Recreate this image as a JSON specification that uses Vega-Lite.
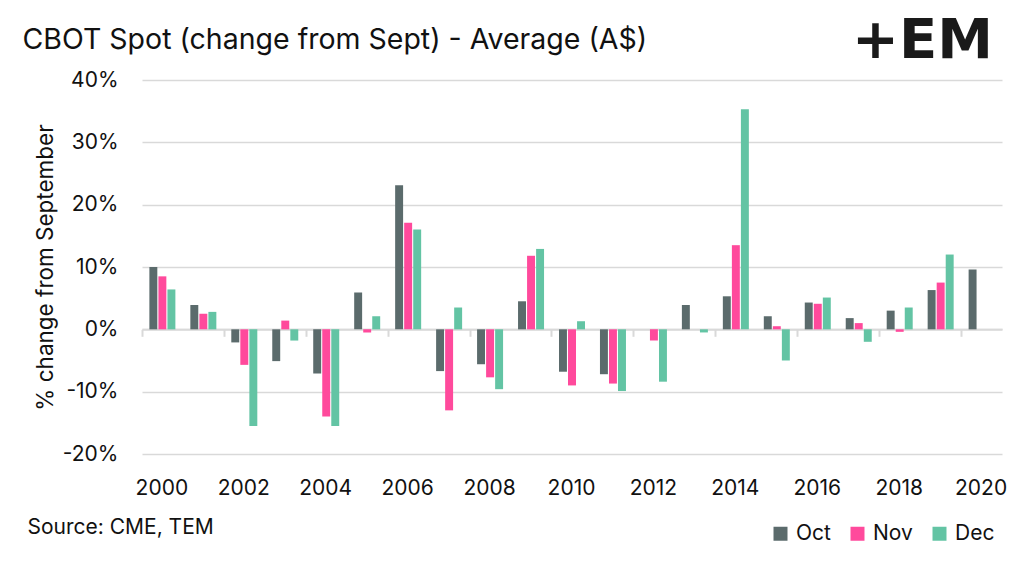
{
  "$schema": "https://vega.github.io/schema/vega-lite/v6.json",
  "width": 860,
  "height": 374,
  "autosize": {"type": "none"},
  "padding": {"left": 142, "top": 80, "right": 22, "bottom": 115},
  "background": "white",
  "config": {
    "font": "Inter",
    "view": {"stroke": null},
    "axis": {"labelColor": "#111111", "titleColor": "#111111", "titleFontWeight": "normal"}
  },
  "data": {
    "values": [
      {"year": 2000, "month": "Oct", "value": 0.100},
      {"year": 2000, "month": "Nov", "value": 0.085},
      {"year": 2000, "month": "Dec", "value": 0.064},
      {"year": 2001, "month": "Oct", "value": 0.039},
      {"year": 2001, "month": "Nov", "value": 0.025},
      {"year": 2001, "month": "Dec", "value": 0.028},
      {"year": 2002, "month": "Oct", "value": -0.021},
      {"year": 2002, "month": "Nov", "value": -0.057},
      {"year": 2002, "month": "Dec", "value": -0.155},
      {"year": 2003, "month": "Oct", "value": -0.051},
      {"year": 2003, "month": "Nov", "value": 0.014},
      {"year": 2003, "month": "Dec", "value": -0.018},
      {"year": 2004, "month": "Oct", "value": -0.071},
      {"year": 2004, "month": "Nov", "value": -0.140},
      {"year": 2004, "month": "Dec", "value": -0.155},
      {"year": 2005, "month": "Oct", "value": 0.059},
      {"year": 2005, "month": "Nov", "value": -0.005},
      {"year": 2005, "month": "Dec", "value": 0.021},
      {"year": 2006, "month": "Oct", "value": 0.231},
      {"year": 2006, "month": "Nov", "value": 0.171},
      {"year": 2006, "month": "Dec", "value": 0.160},
      {"year": 2007, "month": "Oct", "value": -0.067},
      {"year": 2007, "month": "Nov", "value": -0.130},
      {"year": 2007, "month": "Dec", "value": 0.035},
      {"year": 2008, "month": "Oct", "value": -0.056},
      {"year": 2008, "month": "Nov", "value": -0.077},
      {"year": 2008, "month": "Dec", "value": -0.096},
      {"year": 2009, "month": "Oct", "value": 0.045},
      {"year": 2009, "month": "Nov", "value": 0.118},
      {"year": 2009, "month": "Dec", "value": 0.129},
      {"year": 2010, "month": "Oct", "value": -0.068},
      {"year": 2010, "month": "Nov", "value": -0.090},
      {"year": 2010, "month": "Dec", "value": 0.013},
      {"year": 2011, "month": "Oct", "value": -0.072},
      {"year": 2011, "month": "Nov", "value": -0.087},
      {"year": 2011, "month": "Dec", "value": -0.099},
      {"year": 2012, "month": "Nov", "value": -0.018},
      {"year": 2012, "month": "Dec", "value": -0.084},
      {"year": 2013, "month": "Oct", "value": 0.039},
      {"year": 2013, "month": "Dec", "value": -0.005},
      {"year": 2014, "month": "Oct", "value": 0.053},
      {"year": 2014, "month": "Nov", "value": 0.135},
      {"year": 2014, "month": "Dec", "value": 0.353},
      {"year": 2015, "month": "Oct", "value": 0.021},
      {"year": 2015, "month": "Nov", "value": 0.005},
      {"year": 2015, "month": "Dec", "value": -0.050},
      {"year": 2016, "month": "Oct", "value": 0.043},
      {"year": 2016, "month": "Nov", "value": 0.041},
      {"year": 2016, "month": "Dec", "value": 0.051},
      {"year": 2017, "month": "Oct", "value": 0.018},
      {"year": 2017, "month": "Nov", "value": 0.010},
      {"year": 2017, "month": "Dec", "value": -0.020},
      {"year": 2018, "month": "Oct", "value": 0.030},
      {"year": 2018, "month": "Nov", "value": -0.004},
      {"year": 2018, "month": "Dec", "value": 0.035},
      {"year": 2019, "month": "Oct", "value": 0.063},
      {"year": 2019, "month": "Nov", "value": 0.075},
      {"year": 2019, "month": "Dec", "value": 0.120},
      {"year": 2020, "month": "Oct", "value": 0.096}
    ]
  },
  "layer": [
    {
      "mark": {"type": "bar"},
      "encoding": {
        "x": {
          "field": "year",
          "type": "ordinal",
          "scale": {"paddingInner": 0.365, "paddingOuter": 0.18},
          "axis": {
            "orient": "bottom",
            "values": [2000, 2002, 2004, 2006, 2008, 2010, 2012, 2014, 2016, 2018, 2020],
            "offset": -124.7,
            "bandPosition": 0,
            "tickOffset": -7.5,
            "labelOffset": 6.5,
            "domainColor": "#d9d9d9",
            "domainWidth": 2,
            "tickColor": "#d9d9d9",
            "tickWidth": 2,
            "tickSize": 7,
            "labelPadding": 141,
            "labelAngle": 0,
            "labelFontSize": 21,
            "grid": false,
            "title": "Source: CME, TEM",
            "titleX": -115,
            "titleY": 198,
            "titleAlign": "left",
            "titleBaseline": "middle",
            "titleFontSize": 21
          }
        },
        "xOffset": {
          "field": "month",
          "type": "nominal",
          "sort": ["Oct", "Nov", "Dec"],
          "scale": {"paddingInner": 0.12}
        },
        "y": {
          "field": "value",
          "type": "quantitative",
          "scale": {"domain": [-0.2, 0.4], "nice": false},
          "axis": {
            "values": [-0.2, -0.1, 0, 0.1, 0.2, 0.3, 0.4],
            "labelExpr": "(datum.value < -0.0001 ? '-' : '') + format(abs(datum.value), '.0%')",
            "domain": false,
            "ticks": false,
            "grid": true,
            "gridColor": "#d9d9d9",
            "gridWidth": 1.5,
            "labelPadding": 24,
            "labelFontSize": 21,
            "title": "% change from September",
            "titleFontSize": 22.5,
            "titleX": -97,
            "titleY": 187,
            "titleAlign": "center",
            "titleBaseline": "middle",
            "titleAngle": -90
          }
        },
        "color": {
          "field": "month",
          "type": "nominal",
          "scale": {"domain": ["Oct", "Nov", "Dec"], "range": ["#5b6b6c", "#ff4a9c", "#63c4a4"]},
          "legend": {
            "orient": "none",
            "legendX": 628,
            "legendY": 443,
            "direction": "horizontal",
            "title": null,
            "symbolType": "square",
            "symbolSize": 196,
            "symbolStrokeWidth": 0,
            "labelFontSize": 21,
            "labelColor": "#111111",
            "labelOffset": 5,
            "columnPadding": 16,
            "padding": 0
          }
        }
      }
    },
    {
      "mark": {"type": "bar", "opacity": 0},
      "encoding": {
        "x": {
          "field": "year",
          "type": "ordinal",
          "axis": {
            "orient": "top",
            "labels": false,
            "ticks": false,
            "domain": false,
            "grid": false,
            "title": "CBOT Spot (change from Sept) - Average (A$)",
            "titleX": -120,
            "titleY": -41,
            "titleAlign": "left",
            "titleBaseline": "middle",
            "titleFontSize": 28.5
          }
        },
        "y": {
          "field": "value",
          "type": "quantitative",
          "axis": {
            "orient": "right",
            "labels": false,
            "ticks": false,
            "domain": false,
            "grid": false,
            "title": "+EM",
            "titleAngle": 0,
            "titleX": -80,
            "titleY": -40,
            "titleAlign": "center",
            "titleBaseline": "middle",
            "titleFontSize": 56,
            "titleFont": "DejaVu Sans",
            "titleFontWeight": 900,
            "titleColor": "#1a1a1a"
          }
        }
      }
    }
  ],
  "resolve": {"axis": {"x": "independent", "y": "independent"}}
}
